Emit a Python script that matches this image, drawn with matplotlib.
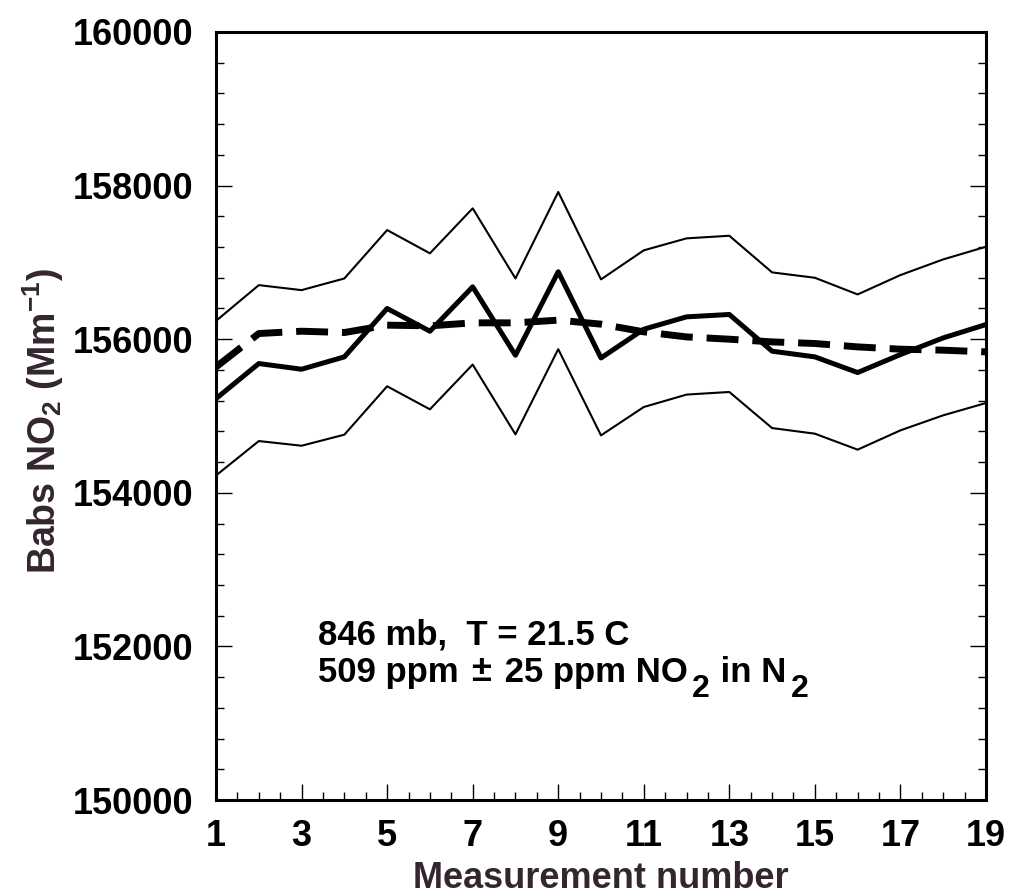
import numpy as np
import matplotlib
matplotlib.use("Agg")
import matplotlib.pyplot as plt
from matplotlib.ticker import MultipleLocator

# measurement index
meas = list(range(1, 20))
xticks = list(range(1, 20, 2))

# Babs NO2 (Mm^-1)
babs = [155227, 155683, 155609, 155770, 156400, 156104, 156682, 155791, 156878, 155756,
        156130, 156291, 156322, 155844, 155770, 155566, 155800, 156017, 156191]
babs_upper = [156239, 156704, 156639, 156791, 157421, 157118, 157704, 156791, 157917, 156779,
              157157, 157313, 157347, 156870, 156800, 156583, 156835, 157039, 157204]
babs_lower = [154226, 154674, 154613, 154757, 155387, 155087, 155670, 154761, 155870, 154748,
              155117, 155279, 155313, 154843, 154770, 154562, 154813, 155009, 155169]
# expected value from concentration
babs_calc = [155639, 156074, 156104, 156087, 156183, 156174, 156213, 156213, 156248, 156196,
             156096, 156030, 156000, 155965, 155944, 155900, 155870, 155857, 155835]

plt.rcParams["font.family"] = ["Liberation Sans", "DejaVu Sans"]
plt.rcParams["mathtext.fontset"] = "custom"
plt.rcParams["mathtext.rm"] = "Liberation Sans:bold"
plt.rcParams["mathtext.bf"] = "Liberation Sans:bold"
plt.rcParams["mathtext.default"] = "bf"

label_color = "#33262f"

fig = plt.figure(figsize=(10.1, 8.96), dpi=100)
ax = fig.add_axes([0.2139, 0.1071, 0.7623, 0.8572])

ax.plot(meas, babs_upper, color="black", lw=1.5)
ax.plot(meas, babs_lower, color="black", lw=1.5)
ax.plot(meas, babs, color="black", lw=3.6)
ax.plot(meas, babs_calc, color="black", lw=5, linestyle=(0, (4.6, 2.0)))

ax.set_xlim(1, 19)
ax.set_ylim(150000, 160000)
ax.set_xticks(xticks)
ax.xaxis.set_minor_locator(MultipleLocator(0.5))
ax.yaxis.set_major_locator(MultipleLocator(2000))
ax.yaxis.set_minor_locator(MultipleLocator(400))

ax.tick_params(which="both", direction="in", right=True, top=False, width=1.0)
ax.tick_params(which="major", length=11.5)
ax.tick_params(which="minor", length=5.8)
ax.tick_params(axis="y", pad=16, labelsize=26)
ax.tick_params(axis="x", pad=14, labelsize=26)
for s in ax.spines.values():
    s.set_linewidth(2.2)

for lab in ax.get_yticklabels() + ax.get_xticklabels():
    lab.set_fontweight("bold")

ax.set_xlabel("Measurement number", fontsize=26, fontweight="bold", color=label_color)
ax.xaxis.set_label_coords(0.5, -0.08)
ax.set_ylabel(r"Babs NO$_2$ (Mm$^{-1}$)", fontsize=27, fontweight="bold", color=label_color)
ax.yaxis.set_label_coords(-0.195, 0.4935)

# annotation, subscripts drawn as lowered pieces like the original
ax.text(0.1325, 0.203, "846 mb,  T = 21.5 C", transform=ax.transAxes,
        fontsize=25, fontweight="bold")
# (text, size, x gap in points, baseline shift in points)
pieces = [("509 ppm ", 25, 0, 0), (r"$\pm$", 26, 2, 0), (" 25 ppm NO", 25, 2, 0),
          ("2", 23, 3, -11), (" in N", 25, 1, 0), ("2", 23, 3, -11)]
prev = ax.text(0.1325, 0.154, pieces[0][0], transform=ax.transAxes,
               fontsize=pieces[0][1], fontweight="bold", va="baseline")
base_dy = 0
for txt, size, dx, dy in pieces[1:]:
    prev = ax.annotate(txt, xy=(1, 0), xycoords=prev, xytext=(dx, dy - base_dy),
                       textcoords="offset points", fontsize=size, fontweight="bold",
                       va="bottom")
    base_dy = dy

fig.savefig("out.png", dpi=100)
